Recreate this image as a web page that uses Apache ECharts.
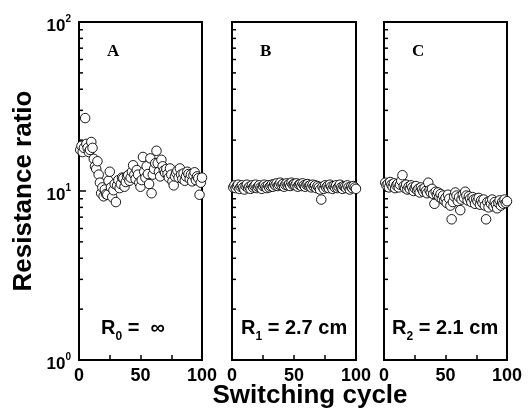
<!DOCTYPE html>
<html><head><meta charset="utf-8">
<script src="https://cdn.jsdelivr.net/npm/echarts@6/dist/echarts.min.js"></script>
<style>html,body{margin:0;padding:0;background:#fff}#c{width:528px;height:417px}</style>
</head><body><div id="c"></div>
<script>
// switching cycle numbers
const cycles = [];
for (let i = 1; i <= 100; i++) cycles.push(i);

// Panel A: R0 = infinity
const ratioA = [17.5,18.5,17,18,27,19,18,17,17.5,19.5,
  18,15.5,14,13.5,15,12.5,11.2,9.7,10.5,9.3,
  10.2,9.6,9.5,11.5,13,10.5,9.2,10.1,11,8.6,
  10.8,11.6,10.4,11,12,11.9,10.6,11.3,12.2,12.4,
  11.5,12,13,14.2,12.5,11.8,13.3,12.5,11.2,10.6,
  11.6,15.9,13,12,14,12.6,11,15.6,9.7,12.5,
  13.5,14.6,17.3,14.6,13,12.2,15.3,14,13.2,12.8,
  13.5,12.6,12,13.6,12.5,11.4,10.8,12.2,12.8,13.2,
  12,13.6,12.5,11.8,12.7,11.5,12.2,13,12.6,11.8,
  12.5,11.4,12.4,12.9,11.6,12.2,11.9,9.5,11.2,12];
// Panel B: R1 = 2.7 cm
const ratioB = [10.5,10.8,10.4,10.7,10.9,10.3,10.6,10.8,10.5,10.2,
  10.7,10.9,10.4,10.6,10.3,10.8,10.5,10.7,10.9,10.4,
  10.6,10.8,10.5,10.3,10.7,10.9,10.6,10.4,10.8,10.5,
  10.7,10.9,10.6,11.0,10.8,11.1,10.7,10.9,11.2,10.8,
  11.0,10.6,10.9,11.1,10.8,11.0,10.7,11.2,10.9,11.0,
  10.8,11.1,10.6,10.9,11.0,10.7,11.1,10.8,10.6,10.9,
  11.0,10.7,10.8,10.5,10.9,10.6,10.8,10.4,10.7,10.5,
  10.2,8.9,10.6,10.3,10.8,10.5,10.7,10.4,10.9,10.6,
  10.3,10.7,10.5,10.8,10.4,10.6,10.9,10.5,10.3,10.7,
  10.6,10.4,10.8,10.5,10.2,10.6,10.4,10.7,10.5,10.3];
// Panel C: R2 = 2.1 cm
const ratioC = [11.2,10.8,11.0,10.5,11.3,10.9,10.6,11.1,10.4,10.8,
  11.0,10.5,10.9,11.5,12.4,10.7,10.4,10.9,10.2,10.6,
  10.3,10.8,10.5,10.0,10.4,10.7,10.1,10.3,9.8,10.5,
  10.2,9.9,10.4,10.0,9.7,11.2,10.1,9.8,10.3,9.6,
  8.4,9.9,9.5,9.8,9.2,9.6,9.0,9.4,8.8,9.1,
  8.5,9.5,9.0,8.2,6.8,8.6,9.3,9.8,9.4,8.7,
  9.2,7.7,8.9,9.5,9.1,9.9,9.4,8.8,9.3,9.0,
  8.6,9.2,8.9,8.4,9.0,8.7,9.1,8.3,8.8,8.5,
  8.9,8.2,6.8,8.6,8.0,8.7,8.4,8.9,8.1,8.6,
  8.3,7.9,8.5,8.8,8.2,8.6,8.4,8.9,8.5,8.7];

const xTickLabels = ['0', '50', '100'];
const yMinorTicks = [2,3,4,5,6,7,8,9,20,30,40,50,60,70,80,90];
const panelLetters = ['A', 'B', 'C'];
const panelSubs = ['0', '1', '2'];
const panelRest = [' =  \u221e', ' = 2.7 cm', ' = 2.1 cm'];
const yTitle = 'Resistance ratio';
const xTitle = 'Switching cycle';

const panels = [ratioA, ratioB, ratioC];
const gridLeft = [79, 232, 384];
const gridWidth = [123, 124, 123];
const noteLeft = [101, 241, 392];

const chart = echarts.init(document.getElementById('c'), null, {renderer: 'canvas'});

const grids = [], xAxes = [], yAxes = [], series = [], titles = [], graphics = [];
panels.forEach((vals, i) => {
  grids.push({left: gridLeft[i], top: 22, width: gridWidth[i], height: 338,
    show: true, borderColor: '#000', borderWidth: 2, backgroundColor: 'transparent'});
  xAxes.push({type: 'value', gridIndex: i, min: 0, max: 100, interval: 25,
    axisLine: {lineStyle: {color: '#000', width: 2}},
    axisTick: {inside: true, length: 5, lineStyle: {color: '#000', width: 1.5}},
    axisLabel: {color: '#000', fontSize: 18, fontWeight: 'bold', fontFamily: 'Liberation Sans, Arial', margin: 7,
      formatter: v => xTickLabels.indexOf(String(v)) >= 0 ? String(v) : ''},
    splitLine: {show: false}});
  yAxes.push({type: 'log', logBase: 10, gridIndex: i, min: 1, max: 100,
    axisLine: {lineStyle: {color: '#000', width: 2}},
    axisTick: {inside: true, length: 7, lineStyle: {color: '#000', width: 1.5}},
    minorTick: {show: false},
    axisLabel: {show: i === 0, margin: 8, padding: [5, 0, 0, 0],
      formatter: v => '{b|10}{s|' + Math.round(Math.log10(v)) + '}',
      rich: {
        b: {fontSize: 17, fontWeight: 'bold', color: '#000', fontFamily: 'Liberation Sans, Arial', lineHeight: 20, verticalAlign: 'bottom'},
        s: {fontSize: 10, fontWeight: 'bold', color: '#000', fontFamily: 'Liberation Sans, Arial', lineHeight: 5, verticalAlign: 'top'}
      }},
    splitLine: {show: false}});
  series.push({type: 'custom', xAxisIndex: i, yAxisIndex: i, silent: true, clip: false, z: 1,
    data: yMinorTicks.map(v => [0, v]),
    renderItem: (params, api) => {
      const p = api.coord([0, api.value(1)]);
      return {type: 'line', shape: {x1: p[0], y1: p[1], x2: p[0] + 4, y2: p[1]},
        style: {stroke: '#000', lineWidth: 1.5}};
    }});
  series.push({type: 'scatter', xAxisIndex: i, yAxisIndex: i, z: 3,
    data: cycles.map((c, k) => [c, vals[k]]),
    symbol: 'circle', symbolSize: 9.5,
    itemStyle: {color: '#fff', borderColor: '#000', borderWidth: 0.9, opacity: 1}});
  titles.push({text: panelLetters[i], left: gridLeft[i] + 28, top: 43, padding: 0,
    textStyle: {fontFamily: 'Liberation Serif, Times New Roman', fontWeight: 'bold', fontSize: 17, color: '#000'}});
  titles.push({text: '{r|R}{s|' + panelSubs[i] + '}{r|' + panelRest[i] + '}', left: noteLeft[i], top: 318, padding: 0,
    textStyle: {rich: {
      r: {fontSize: 20, fontFamily: 'Liberation Sans, Arial', color: '#000', lineHeight: 22, verticalAlign: 'top'},
      s: {fontSize: 12, fontFamily: 'Liberation Sans, Arial', color: '#000', lineHeight: 25, verticalAlign: 'bottom'}
    }}});
});

graphics.push({type: 'text', x: 24, y: 191, rotation: Math.PI / 2,
  style: {text: yTitle, font: 'bold 26px "Liberation Sans", Arial', fill: '#000', textAlign: 'center', textVerticalAlign: 'middle'}});
graphics.push({type: 'text', x: 310, y: 396,
  style: {text: xTitle, font: 'bold 26px "Liberation Sans", Arial', fill: '#000', textAlign: 'center', textVerticalAlign: 'middle'}});

chart.setOption({
  animation: false,
  backgroundColor: '#fff',
  grid: grids, xAxis: xAxes, yAxis: yAxes, series: series, title: titles, graphic: graphics
});
</script></body></html>
